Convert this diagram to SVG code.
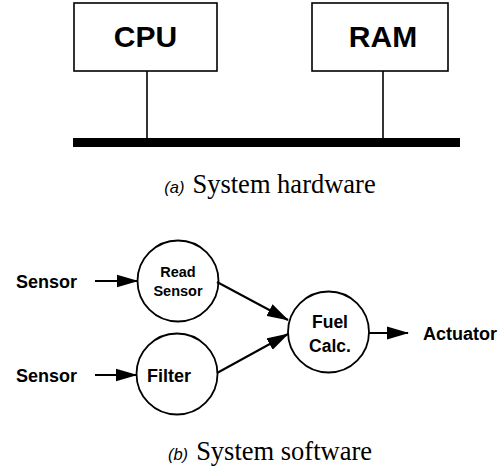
<svg xmlns="http://www.w3.org/2000/svg" width="501" height="471" viewBox="0 0 501 471">
<style>
.box{fill:#fff;stroke:#000;stroke-width:1.6}
.circ{fill:#fff;stroke:#000;stroke-width:1.8}
.ln{stroke:#000;stroke-width:1.6;fill:none}
.edge{stroke:#000;stroke-width:2;fill:none;marker-end:url(#ah)}
.hb{font-family:"Liberation Sans",Arial,sans-serif;font-weight:bold;fill:#000}
.cap{font-family:"Liberation Serif","Times New Roman",serif;fill:#000}
.capl{font-family:"Liberation Sans",Arial,sans-serif;font-style:italic;fill:#000}
</style>
<defs>
<marker id="ah" markerUnits="userSpaceOnUse" markerWidth="22" markerHeight="14" refX="21" refY="7" orient="auto">
<path d="M0,0.5 L22,7 L0,13.5 z" fill="#000"/>
</marker>
</defs>
<g id="cpu">
<rect class="box" x="74" y="3" width="143" height="68"/>
<text class="hb" x="145.5" y="47" font-size="30" text-anchor="middle">CPU</text>
</g>
<g id="ram">
<rect class="box" x="312" y="3" width="136" height="68"/>
<text class="hb" x="383" y="47" font-size="30" text-anchor="middle">RAM</text>
</g>
<g id="bus">
<rect x="73" y="138" width="387" height="9" fill="#000"/>
</g>
<g id="hw-connectors">
<line class="ln" x1="147" y1="71" x2="147" y2="138"/>
<line class="ln" x1="383" y1="71" x2="383" y2="138"/>
</g>
<g id="caption-a">
<text x="270" y="193" text-anchor="middle"><tspan class="capl" font-size="16.5">(a)</tspan><tspan class="cap" font-size="26.5" dx="8">System hardware</tspan></text>
</g>
<g id="sensor1"><text class="hb" x="16" y="288" font-size="18">Sensor</text></g>
<g id="sensor2"><text class="hb" x="16" y="382" font-size="18">Sensor</text></g>
<g id="read-sensor">
<circle class="circ" cx="178" cy="281" r="40.5"/>
<text class="hb" x="178" y="277" font-size="14.5" text-anchor="middle">Read</text>
<text class="hb" x="178" y="296" font-size="14.5" text-anchor="middle">Sensor</text>
</g>
<g id="filter">
<circle class="circ" cx="177" cy="374" r="40.5"/>
<text class="hb" x="169" y="382" font-size="18" text-anchor="middle">Filter</text>
</g>
<g id="fuel-calc">
<circle class="circ" cx="328.5" cy="332" r="40.5"/>
<text class="hb" x="330" y="328" font-size="17.5" text-anchor="middle">Fuel</text>
<text class="hb" x="330" y="352" font-size="17.5" text-anchor="middle">Calc.</text>
</g>
<g id="actuator"><text class="hb" x="423" y="340" font-size="18">Actuator</text></g>
<g id="sw-connectors">
<line class="edge" x1="95" y1="281" x2="137.5" y2="281"/>
<line class="edge" x1="95" y1="375" x2="136.5" y2="375"/>
<line class="edge" x1="217" y1="282" x2="288" y2="320"/>
<line class="edge" x1="217" y1="373" x2="288" y2="334"/>
<line class="edge" x1="369" y1="333" x2="408" y2="333"/>
</g>
<g id="caption-b">
<text x="270" y="460" text-anchor="middle"><tspan class="capl" font-size="16.5">(b)</tspan><tspan class="cap" font-size="26.5" dx="8">System software</tspan></text>
</g>
</svg>
